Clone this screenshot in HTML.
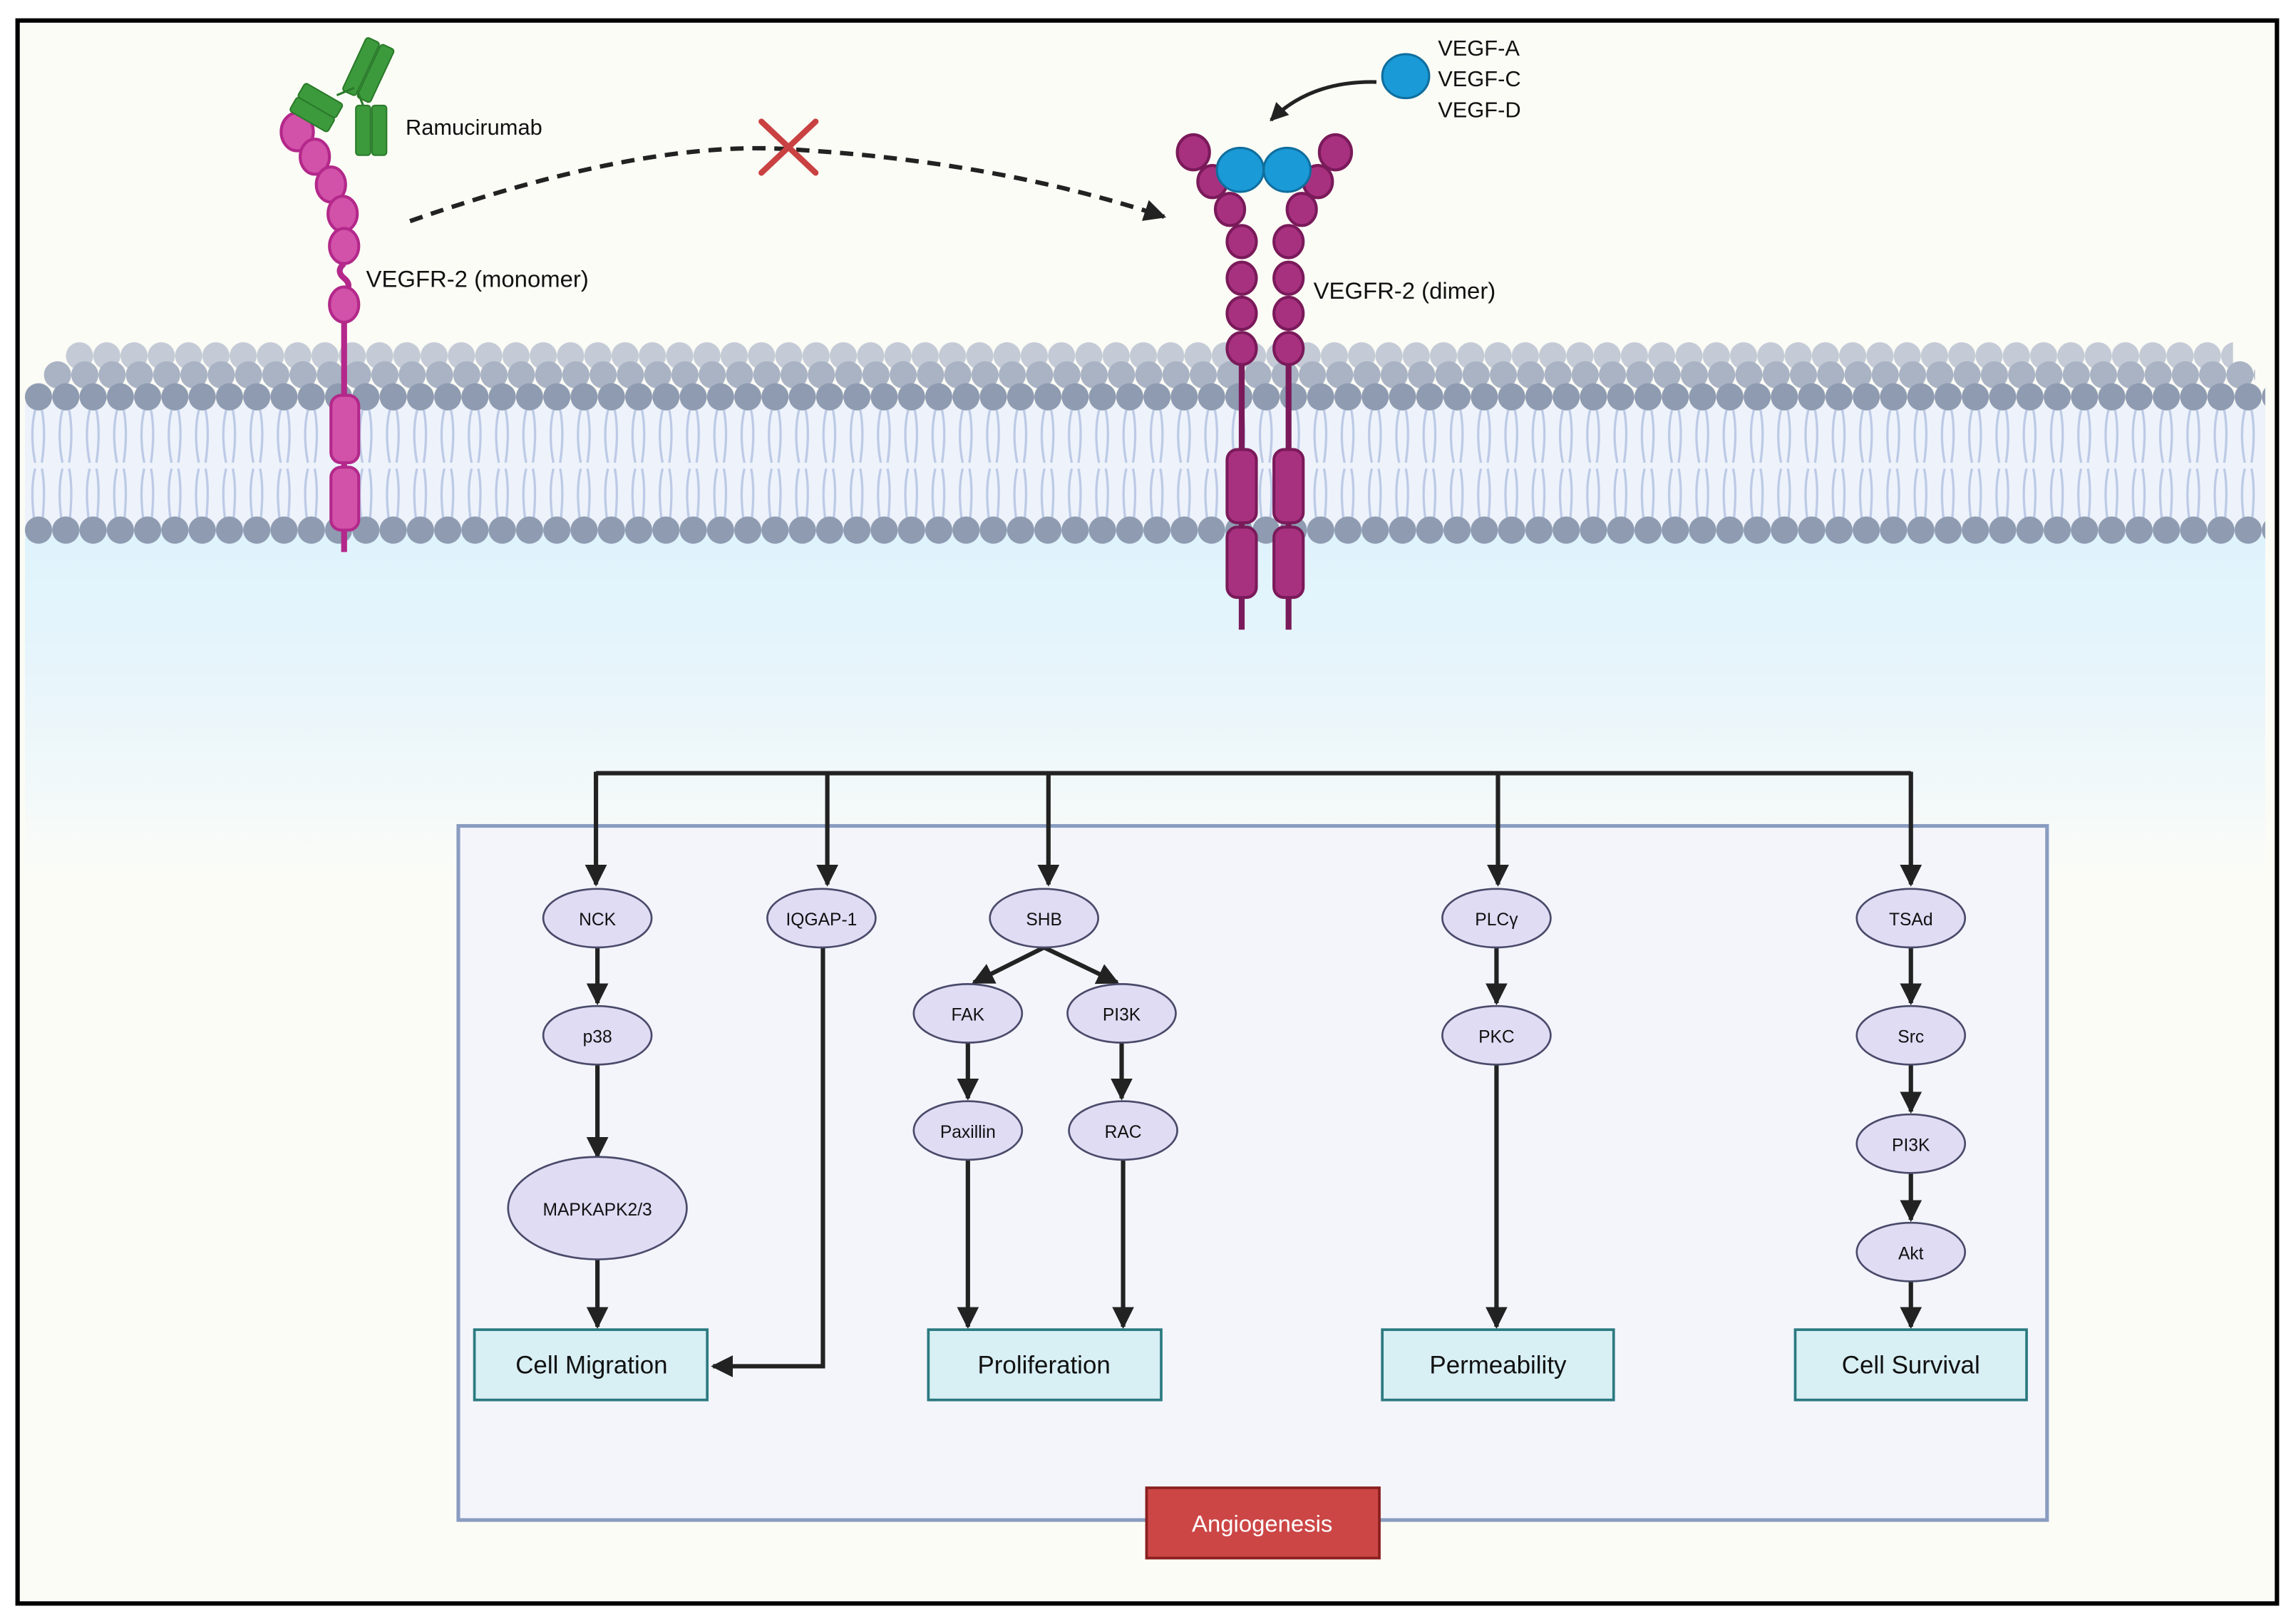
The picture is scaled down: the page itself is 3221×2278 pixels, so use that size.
<!DOCTYPE html>
<html><head><meta charset="utf-8"><style>
html,body{margin:0;padding:0;background:#fff}
svg{display:block}
text{font-family:"Liberation Sans",sans-serif;fill:#111}
</style></head><body>
<svg width="3221" height="2278" viewBox="0 0 1568 1109" preserveAspectRatio="none" xmlns="http://www.w3.org/2000/svg">
<defs>
<linearGradient id="cyto" x1="0" y1="0" x2="0" y2="1">
<stop offset="0" stop-color="#def3fc"/><stop offset="0.45" stop-color="#e8f5fb"/><stop offset="1" stop-color="#fbfcf8"/>
</linearGradient>
<pattern id="hb" x="45" y="228" width="18.63" height="30" patternUnits="userSpaceOnUse"><circle cx="9.3" cy="15" r="9.3" fill="#c4cbd6"/></pattern>
<pattern id="hm" x="30" y="241" width="18.63" height="30" patternUnits="userSpaceOnUse"><circle cx="9.3" cy="15" r="9.3" fill="#a9b3c4"/></pattern>
<pattern id="hf" x="17" y="256" width="18.63" height="30" patternUnits="userSpaceOnUse"><circle cx="9.3" cy="15" r="9.3" fill="#8e9bb1"/></pattern>
<pattern id="hl" x="17" y="347" width="18.63" height="30" patternUnits="userSpaceOnUse"><circle cx="9.3" cy="15" r="9.3" fill="#8e9bb1"/></pattern>
<pattern id="tl" x="17" y="280" width="18.63" height="80" patternUnits="userSpaceOnUse">
<path d="M7,0 C4,12 5,26 7,36 M11.6,0 C14,12 13,26 11.6,36 M7,40 C4,52 5,66 7,80 M11.6,40 C14,52 13,66 11.6,80" stroke="#bccae6" stroke-width="1.6" fill="none"/>
</pattern>
<marker id="ah" viewBox="0 0 10 10" refX="9" refY="5" markerWidth="5" markerHeight="5" orient="auto"><path d="M0,0 L10,5 L0,10 z" fill="#222"/></marker>
</defs>
<rect width="1568" height="1109" fill="#fff"/>
<rect x="12" y="14" width="1543" height="1081" fill="#fcfcf6"/>
<rect x="17" y="360" width="1530" height="240" fill="url(#cyto)"/>
<!-- membrane -->
<rect x="17" y="275" width="1530" height="85" fill="#eef3fb"/>
<rect x="17" y="280" width="1530" height="80" fill="url(#tl)"/>
<rect x="45" y="228" width="1480" height="30" fill="url(#hb)"/>
<rect x="30" y="241" width="1510" height="30" fill="url(#hm)"/>
<rect x="17" y="256" width="1530" height="30" fill="url(#hf)"/>
<rect x="17" y="347" width="1530" height="30" fill="url(#hl)"/>

<!-- monomer -->
<g stroke="#b3288a" stroke-width="2" fill="#d152a8">
<line x1="235" y1="215" x2="235" y2="377" stroke-width="4"/>
<path d="M235,180 q-6,5 0,10 q6,5 0,10" fill="none" stroke-width="4"/>
<rect x="226" y="270" width="19" height="46" rx="7"/>
<rect x="226" y="319" width="19" height="43" rx="7"/>
<ellipse cx="203" cy="90" rx="11" ry="13"/>
<ellipse cx="215" cy="107" rx="10" ry="12"/>
<ellipse cx="226" cy="126" rx="10" ry="12"/>
<ellipse cx="234" cy="146" rx="10" ry="12"/>
<ellipse cx="235" cy="168" rx="10" ry="12"/>
<ellipse cx="235" cy="208" rx="10" ry="12"/>
</g>
<!-- antibody -->
<g fill="#3c9a3c" stroke="#2a7a2a" stroke-width="1">
<g transform="rotate(-60 218 70)"><rect x="203" y="55" width="11" height="30" rx="2"/><rect x="214" y="55" width="11" height="30" rx="2"/></g>
<g transform="rotate(25 252 48)"><rect x="241" y="28" width="10" height="40" rx="2"/><rect x="252" y="28" width="10" height="40" rx="2"/></g>
<rect x="243" y="72" width="10" height="34" rx="2"/><rect x="254" y="72" width="10" height="34" rx="2"/>
<path d="M230,65 L242,60 M244,62 L248,72" stroke="#2a7a2a" stroke-width="1.5" fill="none"/>
</g>
<text x="277" y="92" font-size="15">Ramucirumab</text>
<text x="250" y="196" font-size="16">VEGFR-2 (monomer)</text>

<!-- dashed curve -->
<path d="M280,151 Q440,95 540,102 Q680,110 795,148" fill="none" stroke="#222" stroke-width="3" stroke-dasharray="9,6" marker-end="url(#ah)"/>
<path d="M520,83 L557,118 M557,83 L520,118" stroke="#c94141" stroke-width="4" stroke-linecap="round"/>

<!-- dimer -->
<g stroke="#7a1a5a" stroke-width="2" fill="#a8317f">
<line x1="848" y1="240" x2="848" y2="430" stroke-width="4"/>
<line x1="880" y1="240" x2="880" y2="430" stroke-width="4"/>
<rect x="838" y="307" width="20" height="50" rx="7"/><rect x="838" y="360" width="20" height="48" rx="7"/>
<rect x="870" y="307" width="20" height="50" rx="7"/><rect x="870" y="360" width="20" height="48" rx="7"/>
<ellipse cx="815" cy="104" rx="11" ry="12"/><ellipse cx="828" cy="124" rx="10" ry="11"/><ellipse cx="840" cy="143" rx="10" ry="11"/>
<ellipse cx="848" cy="165" rx="10" ry="11"/><ellipse cx="848" cy="190" rx="10" ry="11"/><ellipse cx="848" cy="214" rx="10" ry="11"/><ellipse cx="848" cy="238" rx="10" ry="11"/>
<ellipse cx="912" cy="104" rx="11" ry="12"/><ellipse cx="900" cy="124" rx="10" ry="11"/><ellipse cx="889" cy="143" rx="10" ry="11"/>
<ellipse cx="880" cy="165" rx="10" ry="11"/><ellipse cx="880" cy="190" rx="10" ry="11"/><ellipse cx="880" cy="214" rx="10" ry="11"/><ellipse cx="880" cy="238" rx="10" ry="11"/>
</g>
<g fill="#1a9ad6" stroke="#0f6e9e" stroke-width="1.5">
<ellipse cx="847" cy="116" rx="16" ry="15"/><ellipse cx="879" cy="116" rx="16" ry="15"/>
<ellipse cx="960" cy="52" rx="16" ry="15"/>
</g>
<path d="M940,56 Q895,55 868,82" fill="none" stroke="#222" stroke-width="2.5" marker-end="url(#ah)"/>
<text x="982" y="38" font-size="15">VEGF-A</text>
<text x="982" y="59" font-size="15">VEGF-C</text>
<text x="982" y="80" font-size="15">VEGF-D</text>
<text x="897" y="204" font-size="16">VEGFR-2 (dimer)</text>

<!-- pathway box -->
<rect x="313" y="564" width="1085" height="474" fill="#f3f5fb" stroke="#8a9cc0" stroke-width="2.5"/>
<g stroke="#222" stroke-width="3" fill="none">
<polyline points="407,528 1305,528"/>
<line x1="407" y1="527" x2="407" y2="604" marker-end="url(#ah)"/>
<line x1="565" y1="527" x2="565" y2="604" marker-end="url(#ah)"/>
<line x1="716" y1="527" x2="716" y2="604" marker-end="url(#ah)"/>
<line x1="1023" y1="527" x2="1023" y2="604" marker-end="url(#ah)"/>
<line x1="1305" y1="527" x2="1305" y2="604" marker-end="url(#ah)"/>
<line x1="408" y1="647" x2="408" y2="685" marker-end="url(#ah)"/>
<line x1="408" y1="727" x2="408" y2="790" marker-end="url(#ah)"/>
<line x1="408" y1="860" x2="408" y2="906" marker-end="url(#ah)"/>
<polyline points="562,647 562,933 487,933" marker-end="url(#ah)"/>
<line x1="713" y1="647" x2="665" y2="671" marker-end="url(#ah)"/>
<line x1="713" y1="647" x2="763" y2="671" marker-end="url(#ah)"/>
<line x1="661" y1="712" x2="661" y2="750" marker-end="url(#ah)"/>
<line x1="766" y1="712" x2="766" y2="750" marker-end="url(#ah)"/>
<line x1="661" y1="792" x2="661" y2="906" marker-end="url(#ah)"/>
<line x1="767" y1="792" x2="767" y2="906" marker-end="url(#ah)"/>
<line x1="1022" y1="647" x2="1022" y2="685" marker-end="url(#ah)"/>
<line x1="1022" y1="727" x2="1022" y2="906" marker-end="url(#ah)"/>
<line x1="1305" y1="647" x2="1305" y2="685" marker-end="url(#ah)"/>
<line x1="1305" y1="727" x2="1305" y2="759" marker-end="url(#ah)"/>
<line x1="1305" y1="801" x2="1305" y2="833" marker-end="url(#ah)"/>
<line x1="1305" y1="875" x2="1305" y2="906" marker-end="url(#ah)"/>
</g>
<g fill="#e0dcf4" stroke="#4a4a6a" stroke-width="1.3">
<ellipse cx="408" cy="627" rx="37" ry="20"/><ellipse cx="561" cy="627" rx="37" ry="20"/><ellipse cx="713" cy="627" rx="37" ry="20"/>
<ellipse cx="1022" cy="627" rx="37" ry="20"/><ellipse cx="1305" cy="627" rx="37" ry="20"/>
<ellipse cx="408" cy="707" rx="37" ry="20"/><ellipse cx="661" cy="692" rx="37" ry="20"/><ellipse cx="766" cy="692" rx="37" ry="20"/>
<ellipse cx="1022" cy="707" rx="37" ry="20"/><ellipse cx="1305" cy="707" rx="37" ry="20"/>
<ellipse cx="408" cy="825" rx="61" ry="35"/>
<ellipse cx="661" cy="772" rx="37" ry="20"/><ellipse cx="767" cy="772" rx="37" ry="20"/>
<ellipse cx="1305" cy="781" rx="37" ry="20"/><ellipse cx="1305" cy="855" rx="37" ry="20"/>
</g>
<g font-size="12" text-anchor="middle">
<text x="408" y="632">NCK</text><text x="561" y="632">IQGAP-1</text><text x="713" y="632">SHB</text>
<text x="1022" y="632">PLCγ</text><text x="1305" y="632">TSAd</text>
<text x="408" y="712">p38</text><text x="661" y="697">FAK</text><text x="766" y="697">PI3K</text>
<text x="1022" y="712">PKC</text><text x="1305" y="712">Src</text>
<text x="408" y="830">MAPKAPK2/3</text>
<text x="661" y="777">Paxillin</text><text x="767" y="777">RAC</text>
<text x="1305" y="786">PI3K</text><text x="1305" y="860">Akt</text>
</g>
<g fill="#d8eff4" stroke="#2b7a80" stroke-width="1.8">
<rect x="324" y="908" width="159" height="48"/><rect x="634" y="908" width="159" height="48"/>
<rect x="944" y="908" width="158" height="48"/><rect x="1226" y="908" width="158" height="48"/>
</g>
<g font-size="17" text-anchor="middle">
<text x="404" y="938">Cell Migration</text><text x="713" y="938">Proliferation</text>
<text x="1023" y="938">Permeability</text><text x="1305" y="938">Cell Survival</text>
</g>
<rect x="783" y="1016" width="159" height="48" fill="#cc4646" stroke="#8a1f1f" stroke-width="1.8"/>
<text x="862" y="1046" font-size="16" text-anchor="middle" style="fill:#fff">Angiogenesis</text>

<rect x="12" y="14" width="1543" height="1081" fill="none" stroke="#000" stroke-width="3"/>
</svg>
</body></html>
